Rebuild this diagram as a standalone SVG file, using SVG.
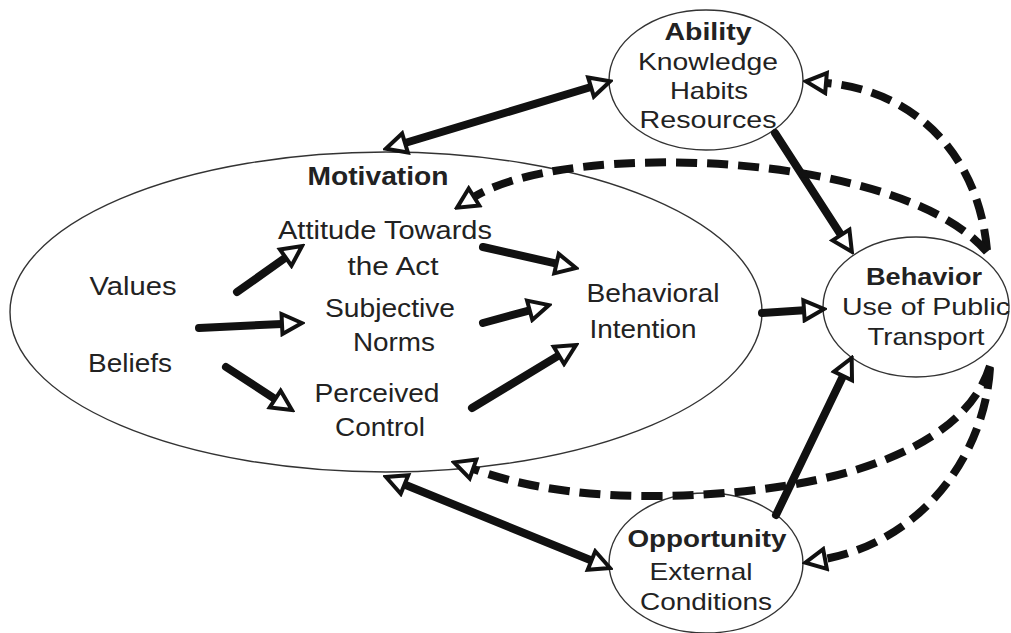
<svg xmlns="http://www.w3.org/2000/svg" width="1011" height="633" viewBox="0 0 1011 633">
<style>
  .node { fill: #ffffff; stroke: #333333; stroke-width: 1.4; }
  text { font-family: "Liberation Sans", Arial, sans-serif; fill: #222222; text-anchor: middle; }
  .t26 { font-size: 26px; }
  .t24 { font-size: 24px; }
  .b { font-weight: bold; }
  .solid { fill: none; stroke: #111111; stroke-width: 8; stroke-linecap: round; }
  .dash { fill: none; stroke: #111111; stroke-width: 8; stroke-dasharray: 21 10; }
</style>
<defs>
  <marker id="head" viewBox="0 0 26 26" refX="3" refY="13" markerWidth="26" markerHeight="26" markerUnits="userSpaceOnUse" orient="auto-start-reverse">
    <path d="M3,3 L23,13 L3,23 Z" fill="#ffffff" stroke="#111111" stroke-width="4" stroke-linejoin="miter" stroke-dasharray="none"/>
  </marker>
</defs>

<g id="motivation">
  <ellipse class="node" cx="386" cy="312" rx="376" ry="160"/>
  <text class="t26 b" x="378" y="185" textLength="141" lengthAdjust="spacingAndGlyphs">Motivation</text>
  <text class="t26" x="133" y="295" textLength="87" lengthAdjust="spacingAndGlyphs">Values</text>
  <text class="t26" x="130" y="372" textLength="84" lengthAdjust="spacingAndGlyphs">Beliefs</text>
  <text class="t26" x="385" y="239" textLength="214" lengthAdjust="spacingAndGlyphs">Attitude Towards</text>
  <text class="t26" x="393" y="275" textLength="91" lengthAdjust="spacingAndGlyphs">the Act</text>
  <text class="t26" x="390" y="317" textLength="130" lengthAdjust="spacingAndGlyphs">Subjective</text>
  <text class="t26" x="394" y="351" textLength="82" lengthAdjust="spacingAndGlyphs">Norms</text>
  <text class="t26" x="377" y="402" textLength="125" lengthAdjust="spacingAndGlyphs">Perceived</text>
  <text class="t26" x="380" y="436" textLength="90" lengthAdjust="spacingAndGlyphs">Control</text>
  <text class="t26" x="653" y="302" textLength="133" lengthAdjust="spacingAndGlyphs">Behavioral</text>
  <text class="t26" x="643" y="338" textLength="107" lengthAdjust="spacingAndGlyphs">Intention</text>
</g>

<g id="ability">
  <ellipse class="node" cx="706" cy="80" rx="97" ry="70"/>
  <text class="t24 b" x="708" y="40" textLength="87" lengthAdjust="spacingAndGlyphs">Ability</text>
  <text class="t24" x="708" y="70" textLength="140" lengthAdjust="spacingAndGlyphs">Knowledge</text>
  <text class="t24" x="709" y="99" textLength="78" lengthAdjust="spacingAndGlyphs">Habits</text>
  <text class="t24" x="708" y="128" textLength="137" lengthAdjust="spacingAndGlyphs">Resources</text>
</g>

<g id="behavior">
  <ellipse class="node" cx="916" cy="307" rx="93" ry="70"/>
  <text class="t24 b" x="924" y="285" textLength="116" lengthAdjust="spacingAndGlyphs">Behavior</text>
  <text class="t24" x="926" y="315" textLength="168" lengthAdjust="spacingAndGlyphs">Use of Public</text>
  <text class="t24" x="926" y="345" textLength="117" lengthAdjust="spacingAndGlyphs">Transport</text>
</g>

<g id="opportunity">
  <ellipse class="node" cx="706" cy="563" rx="97" ry="70"/>
  <text class="t24 b" x="707" y="547" textLength="159" lengthAdjust="spacingAndGlyphs">Opportunity</text>
  <text class="t24" x="701" y="580" textLength="103" lengthAdjust="spacingAndGlyphs">External</text>
  <text class="t24" x="706" y="610" textLength="132" lengthAdjust="spacingAndGlyphs">Conditions</text>
</g>

<g id="connectors">
  <!-- solid -->
  <path class="solid" d="M405,143 L591,87" marker-start="url(#head)" marker-end="url(#head)"/>
  <path class="solid" d="M404.5,484.5 L591.5,560.5" marker-start="url(#head)" marker-end="url(#head)"/>
  <path class="solid" d="M775,133 L841,235" marker-end="url(#head)"/>
  <path class="solid" d="M776,515 L843,376" marker-end="url(#head)"/>
  <path class="solid" d="M762,313 L804,310.3" marker-end="url(#head)"/>
  <path class="solid" d="M237,292 L285.7,257.6" marker-end="url(#head)"/>
  <path class="solid" d="M199,328 L282,324" marker-end="url(#head)"/>
  <path class="solid" d="M226,367 L275.2,399.1" marker-end="url(#head)"/>
  <path class="solid" d="M483,247 L556.5,263.6" marker-end="url(#head)"/>
  <path class="solid" d="M483,323 L529.7,310.3" marker-end="url(#head)"/>
  <path class="solid" d="M472,408 L558.9,355.4" marker-end="url(#head)"/>
  <!-- dashed -->
  <path class="dash" d="M987,250 C978,150 910,90 826,83" marker-end="url(#head)"/>
  <path class="dash" d="M987,252 C900,150 565,140 474,197" marker-end="url(#head)"/>
  <path class="dash" d="M990,366 C960,462 800,496 650,496 C565,496 510,482 473,469" marker-end="url(#head)"/>
  <path class="dash" d="M990,368 C985,452 925,540 825,559" marker-end="url(#head)"/>
</g>
</svg>
